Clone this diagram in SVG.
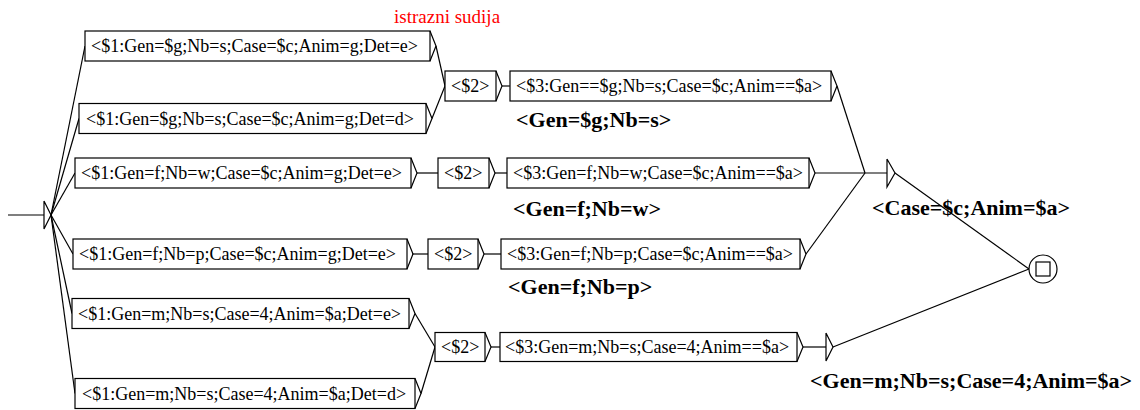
<svg xmlns="http://www.w3.org/2000/svg" width="1140" height="410" viewBox="0 0 1140 410">
<style>
.bx{fill:#fff;stroke:#000;stroke-width:1.2}
.tr{fill:none;stroke:#000;stroke-width:1.2}
.t{font-family:"Liberation Serif","Times New Roman",serif;font-size:18px;fill:#000}
.o{font-family:"Liberation Serif","Times New Roman",serif;font-size:22px;font-weight:bold;fill:#000}
.red{font-family:"Liberation Serif","Times New Roman",serif;font-size:19px;fill:#f00}
#conn line,#conn polyline{stroke:#000;stroke-width:1.2;fill:none}
</style>
<rect width="1140" height="410" fill="#fff"/>
<text class="red" x="394" y="23">istrazni sudija</text>
<g id="conn">
<line x1="8" y1="215" x2="44" y2="215"/>
<line x1="51" y1="215" x2="85" y2="46"/>
<line x1="51" y1="215" x2="79" y2="118.5"/>
<line x1="51" y1="215" x2="75" y2="173"/>
<line x1="51" y1="215" x2="73" y2="254"/>
<line x1="51" y1="215" x2="72" y2="313.5"/>
<line x1="51" y1="215" x2="75" y2="393.5"/>
<line x1="436" y1="46" x2="445" y2="86"/>
<line x1="432" y1="118.5" x2="445" y2="86"/>
<line x1="502" y1="86" x2="510" y2="86"/>
<line x1="837" y1="86" x2="865" y2="173"/>
<line x1="417" y1="173" x2="438" y2="173"/>
<line x1="495" y1="173" x2="507" y2="173"/>
<line x1="815" y1="173" x2="887" y2="173"/>
<line x1="412" y1="254" x2="428" y2="254"/>
<line x1="484" y1="254" x2="501" y2="254"/>
<line x1="806" y1="254" x2="865" y2="173"/>
<line x1="415" y1="313.5" x2="435" y2="347"/>
<line x1="421" y1="393.5" x2="435" y2="347"/>
<line x1="491" y1="347" x2="500" y2="347"/>
<line x1="803" y1="347" x2="826" y2="347"/>
<line x1="895" y1="173" x2="1029" y2="269"/>
<line x1="833" y1="347" x2="1029" y2="269"/>
</g>
<g id="init"><polyline class="tr" points="44,201 51,215 44,229 44,201"/></g>
<g id="a1"><rect class="bx" x="85" y="31" width="345" height="30"/><polyline class="tr" points="430,31 436,46 430,61"/><text class="t" x="91" y="52">&lt;$1:Gen=$g;Nb=s;Case=$c;Anim=g;Det=e&gt;</text></g>
<g id="a2"><rect class="bx" x="79" y="103.5" width="347" height="30"/><polyline class="tr" points="426,103.5 432,118.5 426,133.5"/><text class="t" x="86" y="124.5">&lt;$1:Gen=$g;Nb=s;Case=$c;Anim=g;Det=d&gt;</text></g>
<g id="b1"><rect class="bx" x="445" y="71" width="51" height="30"/><polyline class="tr" points="496,71 502,86 496,101"/><text class="t" x="451" y="92">&lt;$2&gt;</text></g>
<g id="c1"><rect class="bx" x="510" y="71" width="321" height="30"/><polyline class="tr" points="831,71 837,86 831,101"/><text class="t" x="516" y="92">&lt;$3:Gen==$g;Nb=s;Case=$c;Anim==$a&gt;</text><text class="o" x="516" y="127">&lt;Gen=$g;Nb=s&gt;</text></g>
<g id="a3"><rect class="bx" x="75" y="158" width="336" height="30"/><polyline class="tr" points="411,158 417,173 411,188"/><text class="t" x="81" y="179">&lt;$1:Gen=f;Nb=w;Case=$c;Anim=g;Det=e&gt;</text></g>
<g id="b3"><rect class="bx" x="438" y="158" width="51" height="30"/><polyline class="tr" points="489,158 495,173 489,188"/><text class="t" x="444" y="179">&lt;$2&gt;</text></g>
<g id="c3"><rect class="bx" x="507" y="158" width="302" height="30"/><polyline class="tr" points="809,158 815,173 809,188"/><text class="t" x="513" y="179">&lt;$3:Gen=f;Nb=w;Case=$c;Anim==$a&gt;</text><text class="o" x="513" y="216">&lt;Gen=f;Nb=w&gt;</text></g>
<g id="s1"><polyline class="tr" points="887,159 895,173 887,187 887,159"/><text class="o" x="872" y="215">&lt;Case=$c;Anim=$a&gt;</text></g>
<g id="a4"><rect class="bx" x="73" y="239" width="334" height="30"/><polyline class="tr" points="407,239 413,254 407,269"/><text class="t" x="79" y="260">&lt;$1:Gen=f;Nb=p;Case=$c;Anim=g;Det=e&gt;</text></g>
<g id="b4"><rect class="bx" x="428" y="239" width="50" height="30"/><polyline class="tr" points="478,239 484,254 478,269"/><text class="t" x="434" y="260">&lt;$2&gt;</text></g>
<g id="c4"><rect class="bx" x="501" y="239" width="299" height="30"/><polyline class="tr" points="800,239 806,254 800,269"/><text class="t" x="507" y="260">&lt;$3:Gen=f;Nb=p;Case=$c;Anim==$a&gt;</text><text class="o" x="508" y="294">&lt;Gen=f;Nb=p&gt;</text></g>
<g id="a5"><rect class="bx" x="72" y="298.5" width="337" height="30"/><polyline class="tr" points="409,298.5 415,313.5 409,328.5"/><text class="t" x="78" y="319.5">&lt;$1:Gen=m;Nb=s;Case=4;Anim=$a;Det=e&gt;</text></g>
<g id="a6"><rect class="bx" x="75" y="378.5" width="340" height="30"/><polyline class="tr" points="415,378.5 421,393.5 415,408.5"/><text class="t" x="82" y="399.5">&lt;$1:Gen=m;Nb=s;Case=4;Anim=$a;Det=d&gt;</text></g>
<g id="b6"><rect class="bx" x="435" y="332.5" width="50" height="29"/><polyline class="tr" points="485,332.5 491,347 485,361.5"/><text class="t" x="441" y="353">&lt;$2&gt;</text></g>
<g id="c6"><rect class="bx" x="500" y="332.5" width="297" height="29"/><polyline class="tr" points="797,332.5 803,347 797,361.5"/><text class="t" x="505" y="353">&lt;$3:Gen=m;Nb=s;Case=4;Anim==$a&gt;</text></g>
<g id="s2"><polyline class="tr" points="826,333 833,347 826,361 826,333"/><text class="o" x="810" y="388">&lt;Gen=m;Nb=s;Case=4;Anim=$a&gt;</text></g>
<g id="final"><circle cx="1043" cy="269" r="14" fill="#fff" stroke="#000" stroke-width="1.2"/><rect x="1036" y="262" width="14" height="14" fill="none" stroke="#000" stroke-width="1.2"/></g>
</svg>
